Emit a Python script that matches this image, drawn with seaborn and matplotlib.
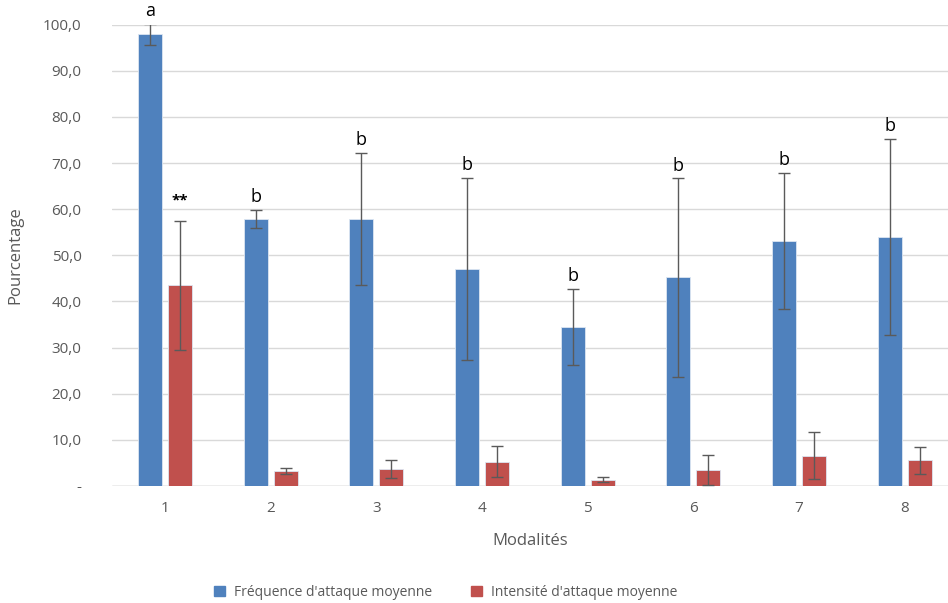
import numpy as np
import pandas as pd
import matplotlib
matplotlib.use("Agg")
import matplotlib.pyplot as plt
import seaborn as sns

# values
modalites = ["1", "2", "3", "4", "5", "6", "7", "8"]
frequence = [97.9, 57.9, 57.9, 47.1, 34.5, 45.2, 53.1, 54.0]
frequence_err = [2.3, 2.0, 14.3, 19.7, 8.3, 21.5, 14.8, 21.2]
intensite = [43.5, 3.2, 3.7, 5.3, 1.4, 3.5, 6.6, 5.6]
intensite_err = [14.0, 0.6, 2.0, 3.3, 0.5, 3.3, 5.0, 2.9]
lettres = ["a", "b", "b", "b", "b", "b", "b", "b"]
etoiles = ["**", "", "", "", "", "", "", ""]

serie_freq = "Fréquence d'attaque moyenne"
serie_int = "Intensité d'attaque moyenne"

df = pd.DataFrame({
    "Modalités": modalites * 2,
    "Pourcentage": frequence + intensite,
    "Série": [serie_freq] * len(modalites) + [serie_int] * len(modalites),
})

sns.set_theme(style="white")
plt.rcParams["font.family"] = ["Open Sans", "DejaVu Sans"]

grey = "#595959"
fig = plt.figure(figsize=(9.48, 6.03), dpi=100)
ax = fig.add_axes([112 / 948, 117 / 603, (948 - 112) / 948, (486 - 24.7) / 603])

sns.barplot(data=df, x="Modalités", y="Pourcentage", hue="Série",
            palette=["#4f81bd", "#c0504d"], saturation=1, width=0.568, gap=0.2,
            errorbar=None, edgecolor="#dce6f2", linewidth=0.6,
            legend=False, ax=ax, zorder=2)

# error bars and significance letters
for cont, errs in zip(ax.containers, [frequence_err, intensite_err]):
    xs = [p.get_x() + p.get_width() / 2 for p in cont.patches]
    hs = [p.get_height() for p in cont.patches]
    ax.errorbar(xs, hs, yerr=errs, fmt="none", ecolor="#5a5a5a",
                elinewidth=1, capsize=4, capthick=1, zorder=3)

freq_x = [p.get_x() + p.get_width() / 2 for p in ax.containers[0].patches]
int_x = [p.get_x() + p.get_width() / 2 for p in ax.containers[1].patches]
for x, v, e, txt in zip(freq_x, frequence, frequence_err, lettres):
    ax.text(x, v + e + 0.8, txt, ha="center", va="bottom", fontsize=13,
            color="black", clip_on=False)
for x, v, e, txt in zip(int_x, intensite, intensite_err, etoiles):
    if txt:
        ax.text(x, v + e + 2.8, txt, ha="center", va="bottom", fontsize=11,
                color="black", fontweight="bold", clip_on=False)

ax.set_ylim(0, 100)
ax.set_xlim(-0.5, 7.41)
yt = np.arange(0, 101, 10)
ax.set_yticks(yt)
ax.set_yticklabels(["-"] + [f"{v:.1f}".replace(".", ",") for v in yt[1:]])
ax.yaxis.grid(True, color="#d9d9d9", linewidth=1, zorder=0)
ax.axhline(0, color="#c8c8c8", linewidth=1, zorder=1)
ax.set_axisbelow(True)
for s in ax.spines.values():
    s.set_visible(False)
ax.tick_params(axis="both", length=0, colors=grey, labelsize=11)
ax.tick_params(axis="y", pad=22)
ax.tick_params(axis="x", pad=11)

ax.set_xlabel("Modalités", fontsize=12, color=grey, labelpad=12)
ax.set_ylabel("Pourcentage", fontsize=12, color=grey, labelpad=14)

handles = [plt.Rectangle((0, 0), 1, 1, color="#4f81bd"),
           plt.Rectangle((0, 0), 1, 1, color="#c0504d")]
fig.legend(handles, [serie_freq, serie_int], loc="center",
           bbox_to_anchor=(446 / 948, 1 - 592 / 603), ncol=2, frameon=False,
           fontsize=10, labelcolor=grey, handlelength=0.75, handleheight=0.75,
           handletextpad=0.7, columnspacing=2.8)

fig.savefig("out.png", dpi=100)
